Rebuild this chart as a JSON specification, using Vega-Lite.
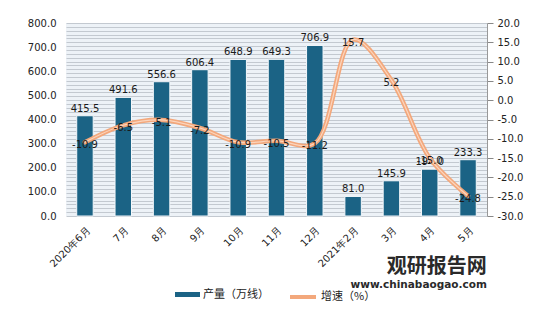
{
  "$schema": "https://vega.github.io/schema/vega-lite/v6.json",
  "autosize": {"type": "none"},
  "width": 421,
  "height": 193,
  "padding": {"left": 66, "top": 23, "right": 57, "bottom": 102},
  "background": "white",
  "title": {"text": "观研报告网", "subtitle": "www.chinabaogao.com", "orient": "bottom", "anchor": "end", "offset": -48, "dx": -36,
    "font": "Noto Sans CJK SC", "fontSize": 20, "fontWeight": "bold", "color": "#2a2a2a",
    "subtitleFont": "DejaVu Sans", "subtitleFontSize": 10.5, "subtitleFontWeight": "bold", "subtitleColor": "#2a2a2a", "subtitlePadding": 3},
  "config": {
    "font": "DejaVu Sans",
    "view": {"stroke": null, "fill": "#edf2f7"},
    "axis": {"labelFont": "DejaVu Sans", "labelFontSize": 10, "labelColor": "#222", "titleFontSize": 10}
  },
  "data": {"values": [
    {"m": "2020年6月", "v": 415.5, "g": -10.9},
    {"m": "7月", "v": 491.6, "g": -6.5},
    {"m": "8月", "v": 556.6, "g": -5.1},
    {"m": "9月", "v": 606.4, "g": -7.2},
    {"m": "10月", "v": 648.9, "g": -10.9},
    {"m": "11月", "v": 649.3, "g": -10.5},
    {"m": "12月", "v": 706.9, "g": -11.2},
    {"m": "2021年2月", "v": 81.0, "g": 15.7},
    {"m": "3月", "v": 145.9, "g": 5.2},
    {"m": "4月", "v": 194.0, "g": -15.0},
    {"m": "5月", "v": 233.3, "g": -24.8}
  ]},
  "encoding": {
    "x": {"field": "m", "type": "nominal", "sort": null,
      "scale": {"paddingInner": 0.57, "paddingOuter": 0.28},
      "axis": {"title": null, "labelAngle": -45, "ticks": false, "domain": false, "labelFontSize": 10, "labelPadding": 9}}
  },
  "layer": [
    {
      "encoding": {
        "y": {"field": "v", "type": "quantitative", "scale": {"domain": [0, 800]},
          "axis": {"title": null, "values": [0,100,200,300,400,500,600,700,800], "format": ".1f", "grid": false, "ticks": false, "domain": false, "labelPadding": 10}}
      },
      "layer": [
        {
          "mark": {"type": "bar", "stroke": "#f4f7fa", "strokeWidth": 1},
          "encoding": {
            "fill": {"datum": "产量（万线）", "type": "nominal", "scale": {"range": ["#1b6385"]},
              "legend": {"title": null, "orient": "none", "legendX": 109, "legendY": 259, "symbolType": "M-1,-0.2H1V0.2H-1Z", "symbolSize": 625, "symbolStrokeWidth": 0, "labelFontSize": 11, "labelFont": "Noto Sans CJK SC", "labelColor": "#222", "labelOffset": 3, "padding": 0}}
          }
        },
        {
          "mark": {"type": "text", "dy": -7, "fontSize": 10, "color": "#1a1a1a", "font": "DejaVu Sans", "text": {"expr": "format(datum.v, '.1f')"}},
          "encoding": {}
        }
      ]
    },
    {
      "encoding": {
        "y": {"field": "g", "type": "quantitative", "scale": {"domain": [-30, 20]},
          "axis": {"title": null, "orient": "right",
            "values": [-30,-29,-28,-27,-26,-25,-24,-23,-22,-21,-20,-19,-18,-17,-16,-15,-14,-13,-12,-11,-10,-9,-8,-7,-6,-5,-4,-3,-2,-1,0,1,2,3,4,5,6,7,8,9,10,11,12,13,14,15,16,17,18,19,20],
            "labelExpr": "abs(datum.value) % 5 == 0 ? replace(format(datum.value, '.1f'), '\u2212', '-') : ''",
            "labelOverlap": false,
            "tickOpacity": {"condition": {"test": "abs(datum.value) % 5 == 0", "value": 1}, "value": 0},
            "tickColor": "#888", "tickSize": 6, "domainColor": "#999", "labelPadding": 4,
            "grid": true, "gridColor": "#c3c9d0", "gridWidth": 1}}
      },
      "layer": [
        {
          "mark": {"type": "line", "interpolate": "catmull-rom", "strokeWidth": 4.5, "strokeCap": "round"},
          "encoding": {
            "stroke": {"datum": "增速（%）", "type": "nominal", "scale": {"range": ["#f3a87c"]},
              "legend": {"title": null, "orient": "none", "legendX": 222, "legendY": 259, "symbolType": "stroke", "symbolStrokeWidth": 4, "symbolSize": 676, "labelFontSize": 11, "labelFont": "Noto Sans CJK SC", "labelColor": "#222", "labelOffset": 3, "padding": 0}}
          }
        },
        {
          "mark": {"type": "line", "interpolate": "catmull-rom", "strokeWidth": 1.2, "color": "#fbd5bd", "strokeCap": "round"},
          "encoding": {}
        },
        {
          "mark": {"type": "text", "dy": 3, "fontSize": 10, "color": "#1a1a1a", "font": "DejaVu Sans", "text": {"expr": "replace(format(datum.g, '.1f'), '\u2212', '-')"}},
          "encoding": {}
        }
      ]
    }
  ],
  "resolve": {"scale": {"y": "independent"}}
}
